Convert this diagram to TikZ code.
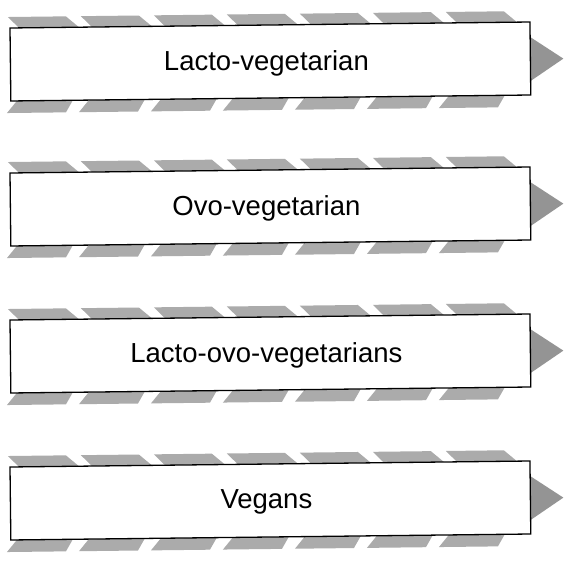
\documentclass[tikz,border=0pt]{standalone}
\usepackage{fontspec}
\setmainfont{Liberation Sans}
\begin{document}
\begin{tikzpicture}[x=1pt,y=1pt,
  strip/.style={fill=black!33, draw=none},
  arrowtip/.style={fill=black!42, draw=none},
  boxline/.style={draw=black, line width=1.3pt, fill=white, inner sep=0pt, outer sep=0pt},
  label/.style={font=\fontsize{27.5}{33}\selectfont, inner sep=0pt}]
\useasboundingbox (0,0) rectangle (563,565);
\foreach \T/\txt/\nm in {28/Lacto-vegetarian/a, 173/Ovo-vegetarian/b, 320/Lacto-ovo-vegetarians/c, 467/Vegans/d} {
  \begin{scope}[shift={(10,565-\T)}, rotate=0.66]
    \foreach \i in {0,...,6} {
      \pgfmathsetmacro\xa{-2+73*\i}
      \fill[strip] (\xa,11) -- ++(58,0) -- ++(13,-11) -- (\xa+11,0) -- cycle;
      \pgfmathsetmacro\xb{-4+72*\i}
      \fill[strip] (\xb,-85) -- ++(10,12) -- ++(56,0) -- (\xb+59,-85) -- cycle;
    }
    \fill[arrowtip] (520,-15) -- (553,-37) -- (520,-59) -- cycle;
    \node[boxline, transform shape, minimum width=520pt, minimum height=73pt] (\nm) at (260,-36.5) {};
    \node[label] (\nm t) at (256,-38) {\txt};
  \end{scope}
}
\end{tikzpicture}
\end{document}
